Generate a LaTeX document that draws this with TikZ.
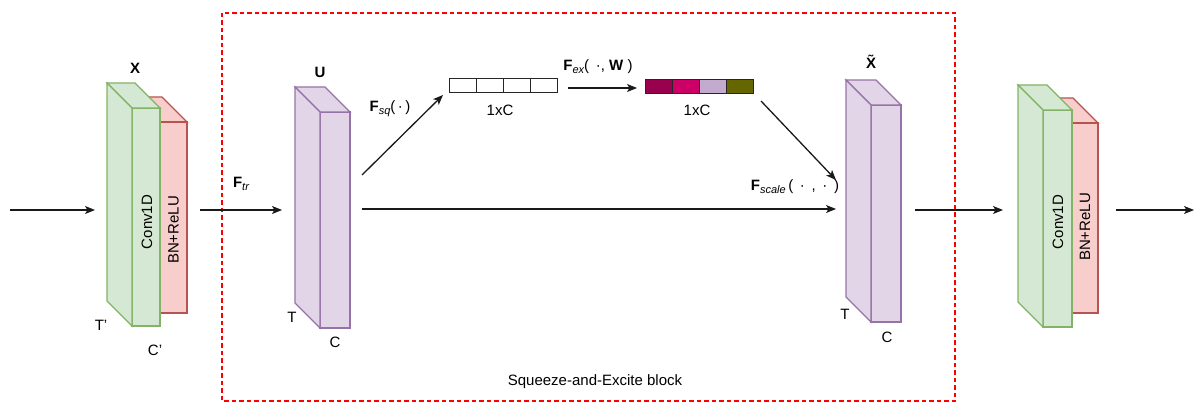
\documentclass[tikz,border=0pt]{standalone}
\usepackage{fontspec}
\setmainfont{Liberation Sans}
\usetikzlibrary{arrows.meta,calc}
\definecolor{gfill}{HTML}{D5E8D4}
\definecolor{gline}{HTML}{82B366}
\definecolor{rfill}{HTML}{F8CECC}
\definecolor{rline}{HTML}{B85450}
\definecolor{pfill}{HTML}{E1D5E7}
\definecolor{pline}{HTML}{9673A6}
\definecolor{vecA}{HTML}{99004D}
\definecolor{vecB}{HTML}{CC0066}
\definecolor{vecC}{HTML}{C3ABD0}
\definecolor{vecD}{HTML}{666600}
\definecolor{seline}{HTML}{FF0000}
% back-top and side faces of a box whose front face is node #1
\newcommand\boxfaces[3]{%
  \draw[#2] (#1.north west) -- ++(-#3,-#3) -- ($(#1.north east)+(-#3,-#3)$) -- (#1.north east) -- cycle;
  \draw[#2] (#1.north west) -- ++(-#3,-#3) -- ($(#1.south west)+(-#3,-#3)$) -- (#1.south west) -- cycle;
}
\newcommand\opsub[1]{\raisebox{-0.4ex}{\fontsize{11}{11}\selectfont\itshape #1}}
\begin{document}
\begin{tikzpicture}[x=1pt,y=-1pt,
  every node/.style={font=\fontsize{15}{17}\selectfont, inner sep=0pt, outer sep=0pt},
  greenbox/.style={draw=gline, fill=gfill, line width=1.1pt},
  redbox/.style={draw=rline, fill=rfill, line width=1.1pt},
  purplebox/.style={draw=pline, fill=pfill, line width=1.1pt},
  front/.style={rectangle, minimum width=#1},
  cell/.style={draw=black!85, line width=1pt, minimum width=27pt, minimum height=14pt, rectangle},
  arr/.style={draw=black!90, line width=1.3pt, -{Stealth[length=10pt,width=8pt,inset=2.5pt]}},
  boldlbl/.style={font=\fontsize{15}{17}\selectfont\bfseries}]
\useasboundingbox (0,0) rectangle (1198,403);

% Squeeze-and-Excite frame
\draw[seline, line width=1.1pt, dash pattern=on 4.5pt off 3pt] (222,13) rectangle (955,401);
\node (setext) at (595,382) {Squeeze-and-Excite block};

% first conv block
\node[redbox, front=27pt, minimum height=191pt] (bn1) at (173.5,217.5) {};
\boxfaces{bn1}{redbox}{25}
\node[redbox, front=27pt, minimum height=191pt] at (bn1) {};
\node[greenbox, front=28pt, minimum height=218pt] (conv1) at (146,217) {};
\boxfaces{conv1}{greenbox}{25}
\node[rotate=90] (conv1t) at (147,222) {Conv1D};
\node[rotate=90] (bn1t) at (173.5,230) {BN+ReLU};
\node[boldlbl] (xlab) at (135,68) {X};
\node (tp) at (101,325) {T'};
\node (cp) at (155,350) {C'};

% U
\node[purplebox, front=30pt, minimum height=216pt] (u) at (335,220) {};
\boxfaces{u}{purplebox}{25}
\node[boldlbl] (ulab) at (320,72) {U};
\node (ut) at (292,317) {T};
\node (uc) at (335,342) {C};

% X tilde
\node[purplebox, front=30pt, minimum height=217pt] (xt) at (886,213.5) {};
\boxfaces{xt}{purplebox}{25}
\node[boldlbl] (xtlab) at (871,62) {\~{X}};
\node (xtt) at (845,314) {T};
\node (xtc) at (887,337) {C};

% second conv block
\node[redbox, front=26pt, minimum height=190pt] (bn2) at (1085,218) {};
\boxfaces{bn2}{redbox}{25}
\node[redbox, front=26pt, minimum height=190pt] at (bn2) {};
\node[greenbox, front=29pt, minimum height=217pt] (conv2) at (1057.5,218.5) {};
\boxfaces{conv2}{greenbox}{25}
\node[rotate=90] (conv2t) at (1058,222) {Conv1D};
\node[rotate=90] (bn2t) at (1085,227) {BN+ReLU};

% squeezed vector
\node[cell] (s1) at (462.5,86) {};
\node[cell, anchor=west] (s2) at (s1.east) {};
\node[cell, anchor=west] (s3) at (s2.east) {};
\node[cell, anchor=west] (s4) at (s3.east) {};
\node (s1xc) at (500,110) {1xC};

% excited vector
\node[cell, fill=vecA] (e1) at (658.5,86.5) {};
\node[cell, fill=vecB, anchor=west] (e2) at (e1.east) {};
\node[cell, fill=vecC, anchor=west] (e3) at (e2.east) {};
\node[cell, fill=vecD, anchor=west] (e4) at (e3.east) {};
\node (e1xc) at (697,110) {1xC};

% free arrow ends
\coordinate (in0) at (10,210);
\coordinate (in1) at (95,210);
\coordinate (tr0) at (200,210);
\coordinate (tr1) at (282,210);
\coordinate (sq0) at (362,175);
\coordinate (sq1) at (443,95);
\coordinate (ex0) at (568,88);
\coordinate (ex1) at (637,88);
\coordinate (sc0) at (362,209);
\coordinate (sc1) at (836,209);
\coordinate (ws0) at (761,101);
\coordinate (ws1) at (836,180);
\coordinate (o0) at (915,210);
\coordinate (o1) at (1003,210);
\coordinate (f0) at (1116,210);
\coordinate (f1) at (1194,210);

\draw[arr] (in0) -- (in1);
\draw[arr] (tr0) -- (tr1);
\draw[arr] (sq0) -- (sq1);
\draw[arr] (ex0) -- (ex1);
\draw[arr] (sc0) -- (sc1);
\draw[arr] (ws0) -- (ws1);
\draw[arr] (o0) -- (o1);
\draw[arr] (f0) -- (f1);

% operator labels
\node (ftr) at (241,184) {\textbf{F}\opsub{tr}};
\node (fsq) at (390,109) {\textbf{F}\opsub{sq}(\,·\,)};
\node (fex) at (598,67) {\textbf{F}\opsub{ex}( \,·, \textbf{W} )};
\node (fsc) at (795,187) {\textbf{F}\opsub{scale}\,( \,·\, , \,·\, )};
\end{tikzpicture}
\end{document}
